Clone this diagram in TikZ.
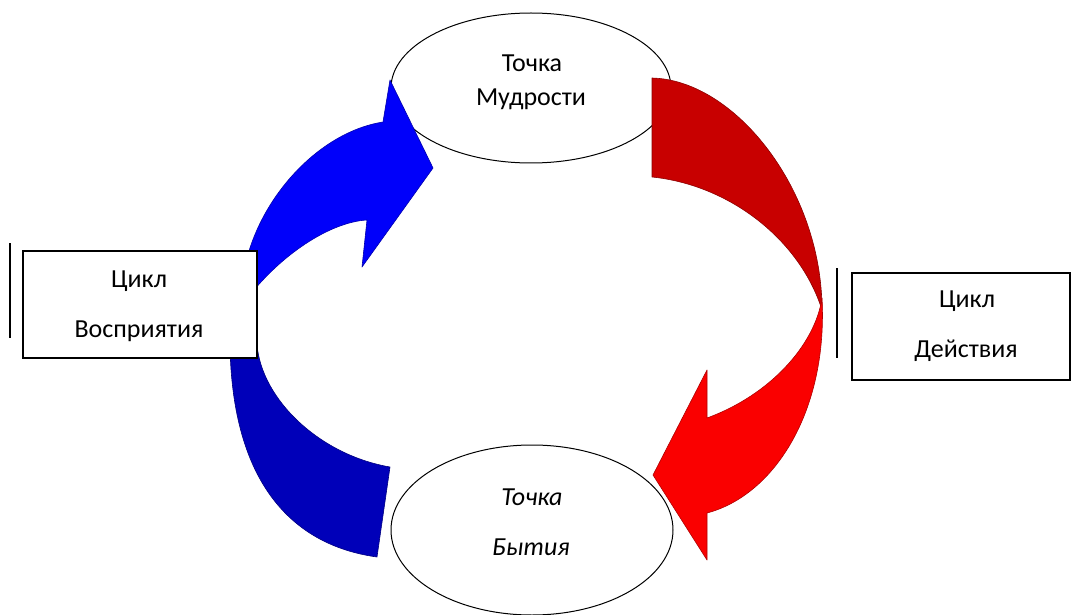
\documentclass[tikz,border=0pt]{standalone}
\usepackage{fontspec}
\setmainfont{Carlito}
\usetikzlibrary{shapes.geometric}
\definecolor{blueA}{RGB}{0,0,250}
\definecolor{blueB}{RGB}{0,0,185}
\definecolor{redA}{RGB}{200,0,0}
\definecolor{redB}{RGB}{250,0,0}
\tikzset{
  oval/.style={draw=black, line width=0.5pt, ellipse, fill=white, inner sep=0pt},
  cyclebox/.style={draw=black, line width=0.6pt, fill=white, rectangle, inner sep=0pt},
  lbl/.style={anchor=base, inner sep=0pt, font=\fontsize{13}{15}\selectfont},
  bar/.style={draw=black, line width=1pt},
  shapeedge/.style={line width=0.3pt, line join=round}
}
\begin{document}
\begin{tikzpicture}[x=0.5pt, y=-0.5pt]
\useasboundingbox (0,0) rectangle (1071,615);
% ellipses
\node[oval, minimum width=140pt, minimum height=75pt] (wis) at (531,88) {};
\node[oval, minimum width=141pt, minimum height=85pt] (being) at (532,530) {};
% blue upper arrow
\filldraw[blueA, draw=blueA!70!black, shapeedge]
  (246,262) .. controls (262,195) and (320,132) .. (383,122)
  -- (390,80) -- (433,168) -- (362,267) -- (367,220)
  .. controls (330,222) and (280,255) .. (246,300)
  -- cycle;
% blue lower piece
\filldraw[blueB, draw=blueB!70!black, shapeedge]
  (230,345) .. controls (232,480) and (290,545) .. (377,557)
  -- (390,467)
  .. controls (320,455) and (262,400) .. (257,345)
  -- cycle;
% dark red upper piece
\filldraw[redA, draw=redA!70!black, shapeedge]
  (652,177) -- (652,78)
  .. controls (735,80) and (822,190) .. (822,310)
  .. controls (800,240) and (730,185) .. (652,177)
  -- cycle;
% bright red lower arrow
\filldraw[redB, draw=redB!70!black, shapeedge]
  (822,298) .. controls (828,410) and (775,495) .. (707,513)
  -- (707,560) -- (653,475) -- (707,370) -- (707,418)
  .. controls (770,395) and (815,345) .. (822,298)
  -- cycle;
% boxes
\node[cyclebox, minimum width=117pt, minimum height=53.5pt] (perc) at (140,304.5) {};
\node[cyclebox, minimum width=109pt, minimum height=53.5pt] (act) at (961,326.5) {};
% side bars
\coordinate (lb1) at (10,243); \coordinate (lb2) at (10,338);
\coordinate (rb1) at (837,268); \coordinate (rb2) at (837,358);
\draw[bar] (lb1) -- (lb2);
\draw[bar] (rb1) -- (rb2);
% texts
\node[lbl] (w1) at (532,72) {Точка};
\node[lbl] (w2) at (531,105) {Мудрости};
\node[lbl] (b1) at (532,505) {\itshape Точка};
\node[lbl] (b2) at (531,555) {\itshape Бытия};
\node[lbl] (p1) at (139,287) {Цикл};
\node[lbl] (p2) at (139,337) {Восприятия};
\node[lbl] (a1) at (967,307) {Цикл};
\node[lbl] (a2) at (966,357) {Действия};
\end{tikzpicture}
\end{document}
